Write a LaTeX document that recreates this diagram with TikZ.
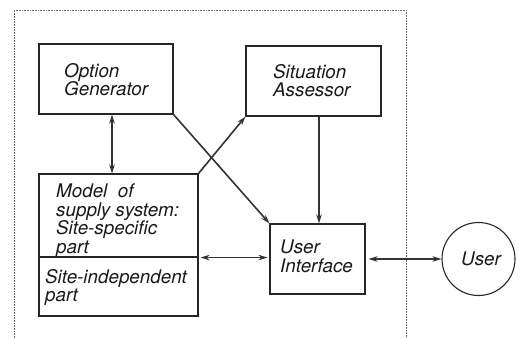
\documentclass[tikz,border=0pt]{standalone}
\usepackage{fontspec}
\setmainfont{TeX Gyre Heros}
\usetikzlibrary{arrows.meta}
\begin{document}
\begin{tikzpicture}[x=1pt,y=-1pt,
  box/.style={draw=black!85,line width=1.1pt,rectangle,inner sep=0pt},
  lbl/.style={anchor=north west,inner sep=0pt,align=left,
     font=\fontsize{18.8}{18.5}\selectfont\itshape,text=black!90},
  conn/.style={draw=black!80,line width=1.6pt},
  tip/.style={-{Stealth[length=9pt,width=5.5pt]}},
  dtip/.style={{Stealth[length=9pt,width=5.5pt]}-{Stealth[length=9pt,width=5.5pt]}},
  frame/.style={draw=black!60,densely dotted,line width=0.6pt}]
\useasboundingbox (0,0) rectangle (522,338);
% dotted frame
\draw[frame] (14,338) -- (14,10) -- (406,10) -- (406,338);
% boxes
\node[box,minimum width=134pt,minimum height=70pt] (og) at (106,79) {};
\node[box,minimum width=135pt,minimum height=70pt] (sa) at (313.5,81) {};
\node[box,minimum width=159pt,minimum height=83pt] (mtop) at (118.5,215.5) {};
\node[box,minimum width=159pt,minimum height=59pt] (mbot) at (118.5,286.5) {};
\node[box,minimum width=95pt,minimum height=70pt] (ui) at (317.5,259) {};
\node[draw=black!85,line width=1.1pt,circle,minimum size=73pt,inner sep=0pt] (user) at (478.5,259) {};
% labels
\node[lbl] (tog) at (64,63) {Option\\Generator};
\node[lbl] (tsa) at (273,64) {Situation\\Assessor};
\node[lbl] (tmt) at (56,184) {Model\ \ of\\supply\ system:\\Site-specific\\part};
\node[lbl] (tmb) at (45,269) {Site-independent\\part};
\node[lbl] (tui) at (280,240) {User\\Interface};
\node[lbl,anchor=base west] (tus) at (461,265) {User};
% connectors
\draw[conn,dtip] ([xshift=6pt]og.south) -- ([xshift=-6.5pt]mtop.north);
\draw[conn,tip] (mtop.north east) -- (sa.south west);
\draw[conn,tip] (og.south east) -- (ui.north west);
\draw[conn,tip] ([xshift=5.5pt]sa.south) -- ([xshift=1.5pt]ui.north);
\draw[conn,dtip,shorten <=2pt,shorten >=2pt] (mtop.south east) -- (mtop.south east -| ui.west);
\draw[conn,dtip,shorten <=3pt] (ui.east) -- (user.west);
\end{tikzpicture}
\end{document}
